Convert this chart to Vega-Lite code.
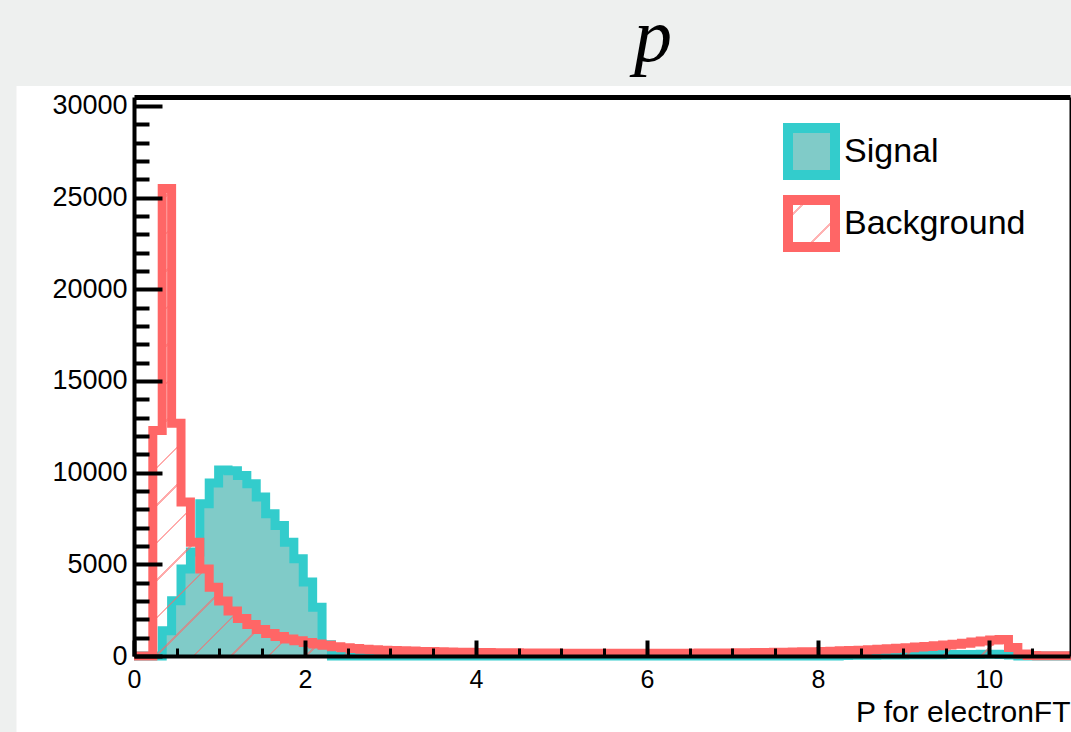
{
  "$schema": "https://vega.github.io/schema/vega-lite/v6.json",
  "width": 936,
  "height": 559,
  "autosize": {"type": "none"},
  "padding": {"left": 134, "top": 97, "right": 1, "bottom": 76},
  "background": "#eef0ef",
  "config": {
    "view": {"stroke": null},
    "axis": {
      "grid": false,
      "labelFont": "Liberation Sans",
      "titleFont": "Liberation Sans",
      "labelColor": "black",
      "titleColor": "black",
      "tickColor": "black",
      "domainColor": "black"
    }
  },
  "title": {
    "text": "p",
    "font": "Liberation Serif",
    "fontStyle": "italic",
    "fontWeight": "normal",
    "fontSize": 76,
    "color": "black",
    "anchor": "middle",
    "frame": "group",
    "dx": 51,
    "dy": 51,
    "offset": 0,
    "baseline": "alphabetic"
  },
  "data": {
    "values": [
      {"x": 0, "sig": 0, "bkg": 0},
      {"x": 0.11, "sig": 0, "bkg": 0},
      {"x": 0.22, "sig": 0, "bkg": 12300},
      {"x": 0.33, "sig": 1380, "bkg": 25500},
      {"x": 0.44, "sig": 3020, "bkg": 12700},
      {"x": 0.55, "sig": 4750, "bkg": 8400},
      {"x": 0.66, "sig": 5670, "bkg": 6210},
      {"x": 0.77, "sig": 8300, "bkg": 4750},
      {"x": 0.88, "sig": 9440, "bkg": 3750},
      {"x": 0.99, "sig": 10150, "bkg": 3000},
      {"x": 1.1, "sig": 10100, "bkg": 2450},
      {"x": 1.21, "sig": 9850, "bkg": 2050},
      {"x": 1.32, "sig": 9400, "bkg": 1720},
      {"x": 1.43, "sig": 8670, "bkg": 1450},
      {"x": 1.54, "sig": 7760, "bkg": 1230},
      {"x": 1.65, "sig": 7120, "bkg": 1060},
      {"x": 1.76, "sig": 6210, "bkg": 930},
      {"x": 1.87, "sig": 5300, "bkg": 830},
      {"x": 1.98, "sig": 4030, "bkg": 740},
      {"x": 2.09, "sig": 2660, "bkg": 660},
      {"x": 2.2, "sig": 620, "bkg": 580},
      {"x": 2.31, "sig": 0, "bkg": 510},
      {"x": 2.42, "sig": 0, "bkg": 450},
      {"x": 2.53, "sig": 0, "bkg": 410},
      {"x": 2.64, "sig": 0, "bkg": 375},
      {"x": 2.75, "sig": 0, "bkg": 345},
      {"x": 2.86, "sig": 0, "bkg": 320},
      {"x": 2.97, "sig": 0, "bkg": 300},
      {"x": 3.08, "sig": 0, "bkg": 282},
      {"x": 3.19, "sig": 0, "bkg": 266},
      {"x": 3.3, "sig": 0, "bkg": 252},
      {"x": 3.41, "sig": 0, "bkg": 240},
      {"x": 3.52, "sig": 0, "bkg": 229},
      {"x": 3.63, "sig": 0, "bkg": 219},
      {"x": 3.74, "sig": 0, "bkg": 210},
      {"x": 3.85, "sig": 0, "bkg": 202},
      {"x": 3.96, "sig": 0, "bkg": 195},
      {"x": 4.07, "sig": 0, "bkg": 189},
      {"x": 4.18, "sig": 0, "bkg": 183},
      {"x": 4.29, "sig": 0, "bkg": 178},
      {"x": 4.4, "sig": 0, "bkg": 173},
      {"x": 4.51, "sig": 0, "bkg": 169},
      {"x": 4.62, "sig": 0, "bkg": 165},
      {"x": 4.73, "sig": 0, "bkg": 162},
      {"x": 4.84, "sig": 0, "bkg": 159},
      {"x": 4.95, "sig": 0, "bkg": 156},
      {"x": 5.06, "sig": 0, "bkg": 154},
      {"x": 5.17, "sig": 0, "bkg": 152},
      {"x": 5.28, "sig": 0, "bkg": 150},
      {"x": 5.39, "sig": 0, "bkg": 149},
      {"x": 5.5, "sig": 0, "bkg": 148},
      {"x": 5.61, "sig": 0, "bkg": 147},
      {"x": 5.72, "sig": 0, "bkg": 147},
      {"x": 5.83, "sig": 0, "bkg": 147},
      {"x": 5.94, "sig": 0, "bkg": 148},
      {"x": 6.05, "sig": 0, "bkg": 149},
      {"x": 6.16, "sig": 0, "bkg": 150},
      {"x": 6.27, "sig": 0, "bkg": 152},
      {"x": 6.38, "sig": 0, "bkg": 154},
      {"x": 6.49, "sig": 0, "bkg": 156},
      {"x": 6.6, "sig": 0, "bkg": 159},
      {"x": 6.71, "sig": 0, "bkg": 162},
      {"x": 6.82, "sig": 0, "bkg": 166},
      {"x": 6.93, "sig": 0, "bkg": 170},
      {"x": 7.04, "sig": 0, "bkg": 175},
      {"x": 7.15, "sig": 0, "bkg": 180},
      {"x": 7.26, "sig": 0, "bkg": 186},
      {"x": 7.37, "sig": 0, "bkg": 193},
      {"x": 7.48, "sig": 0, "bkg": 200},
      {"x": 7.59, "sig": 0, "bkg": 208},
      {"x": 7.7, "sig": 0, "bkg": 217},
      {"x": 7.81, "sig": 0, "bkg": 227},
      {"x": 7.92, "sig": 0, "bkg": 238},
      {"x": 8.03, "sig": 0, "bkg": 250},
      {"x": 8.14, "sig": 0, "bkg": 265},
      {"x": 8.25, "sig": 30, "bkg": 282},
      {"x": 8.36, "sig": 35, "bkg": 300},
      {"x": 8.47, "sig": 40, "bkg": 320},
      {"x": 8.58, "sig": 45, "bkg": 342},
      {"x": 8.69, "sig": 50, "bkg": 366},
      {"x": 8.8, "sig": 55, "bkg": 392},
      {"x": 8.91, "sig": 60, "bkg": 420},
      {"x": 9.02, "sig": 65, "bkg": 452},
      {"x": 9.13, "sig": 70, "bkg": 486},
      {"x": 9.24, "sig": 70, "bkg": 522},
      {"x": 9.35, "sig": 75, "bkg": 560},
      {"x": 9.46, "sig": 80, "bkg": 600},
      {"x": 9.57, "sig": 80, "bkg": 645},
      {"x": 9.68, "sig": 85, "bkg": 700},
      {"x": 9.79, "sig": 85, "bkg": 760},
      {"x": 9.9, "sig": 90, "bkg": 820},
      {"x": 10.01, "sig": 90, "bkg": 870},
      {"x": 10.12, "sig": 80, "bkg": 900},
      {"x": 10.23, "sig": 60, "bkg": 470},
      {"x": 10.34, "sig": 0, "bkg": 110},
      {"x": 10.45, "sig": 0, "bkg": 30},
      {"x": 10.56, "sig": 0, "bkg": 20},
      {"x": 10.67, "sig": 0, "bkg": 15},
      {"x": 10.78, "sig": 0, "bkg": 10},
      {"x": 10.89, "sig": 0, "bkg": 10},
      {"x": 11, "sig": 0, "bkg": 10}
    ]
  },
  "resolve": {"axis": {"x": "independent", "y": "independent"}},
  "layer": [
    {
      "mark": {"type": "rect", "color": "white", "clip": false},
      "encoding": {
        "x": {"datum": -1.37, "type": "quantitative", "scale": {"domain": [0, 10.95], "nice": false, "zero": false},
          "axis": {"orient": "top", "zindex": 1, "domain": true, "domainWidth": 5, "ticks": false, "labels": false, "title": null}},
        "x2": {"datum": 11.2},
        "y": {"datum": -4500, "type": "quantitative", "scale": {"domain": [0, 30490], "nice": false},
          "axis": {"orient": "right", "zindex": 1, "domain": true, "domainWidth": 2, "ticks": false, "labels": false, "title": null}},
        "y2": {"datum": 31090}
      }
    },
    {
      "mark": {"type": "area", "interpolate": "step-after", "color": "#80cbc8"},
      "encoding": {
        "x": {"field": "x", "type": "quantitative", "scale": {"domain": [0, 10.95], "nice": false, "zero": false},
          "axis": {"orient": "bottom", "zindex": 1, "values": [0, 2, 4, 6, 8, 10], "ticks": false, "domain": true, "domainWidth": 4,
            "labelFontSize": 25, "labelPadding": 11, "labelFlush": false, "labelOverlap": false, "format": "d",
            "title": "P for electronFT", "titleFontSize": 30, "titleFontWeight": "normal", "titleAlign": "right",
            "titleAnchor": "end", "titleX": 936, "titleY": 65, "titleBaseline": "alphabetic"}},
        "y": {"field": "sig", "type": "quantitative", "scale": {"domain": [0, 30490], "nice": false},
          "axis": {"orient": "left", "zindex": 1, "values": [0, 5000, 10000, 15000, 20000, 25000, 30000], "ticks": false,
            "domain": true, "domainWidth": 4, "labelFontSize": 27, "labelPadding": 7, "labelFlush": false,
            "labelOverlap": false, "format": "d", "title": null}},
        "y2": {"datum": 0}
      }
    },
    {
      "mark": {"type": "line", "interpolate": "step-after", "strokeWidth": 9, "strokeJoin": "miter", "strokeCap": "butt"},
      "encoding": {
        "x": {"field": "x", "type": "quantitative", "scale": {"domain": [0, 10.95], "nice": false, "zero": false},
          "axis": {"orient": "bottom", "zindex": 1, "values": [0.5, 1, 1.5, 2.5, 3, 3.5, 4.5, 5, 5.5, 6.5, 7, 7.5, 8.5, 9, 9.5, 10.5],
            "labels": false, "domain": false, "tickSize": 8, "tickWidth": 3, "offset": -8, "title": null}},
        "y": {"field": "sig", "type": "quantitative", "scale": {"domain": [0, 30490], "nice": false},
          "axis": {"orient": "left", "zindex": 1, "values": [1000, 2000, 3000, 4000, 6000, 7000, 8000, 9000, 11000, 12000, 13000, 14000, 16000, 17000, 18000, 19000, 21000, 22000, 23000, 24000, 26000, 27000, 28000, 29000],
            "labels": false, "domain": false, "tickSize": 15, "tickWidth": 4, "offset": -15, "title": null}},
        "stroke": {"datum": "Signal", "type": "nominal",
          "scale": {"domain": ["Signal", "Background"], "range": ["#33cccc", "#ff6666"]},
          "legend": {
            "orient": "none", "legendX": 649, "legendY": 26, "title": null,
            "symbolType": "square", "symbolSize": 2209, "symbolStrokeWidth": 10, "symbolOpacity": 1,
            "labelFont": "Liberation Sans", "labelFontSize": 34, "labelColor": "black", "labelLimit": 400,
            "rowPadding": -17, "labelOffset": 4, "padding": 0,
            "encode": {
              "symbols": {
                "update": {
                  "strokeJoin": {"value": "miter"},
                  "fill": [
                    {"test": "datum.value === 'Signal'", "value": "#80cbc8"},
                    {"value": {"gradient": "linear", "x1": 0, "y1": 0, "x2": 1, "y2": 1, "stops": [
                      {"offset": 0, "color": "#ffffff"},
                      {"offset": 0.19, "color": "#ffffff"},
                      {"offset": 0.19, "color": "#ffb3b3"},
                      {"offset": 0.22, "color": "#ffb3b3"},
                      {"offset": 0.22, "color": "#ffffff"},
                      {"offset": 0.69, "color": "#ffffff"},
                      {"offset": 0.69, "color": "#ffb3b3"},
                      {"offset": 0.72, "color": "#ffb3b3"},
                      {"offset": 0.72, "color": "#ffffff"},
                      {"offset": 1, "color": "#ffffff"}
                    ]}}
                  ]
                }
              }
            }
          }
        }
      }
    },
    {
      "mark": {"type": "area", "interpolate": "step-after",
        "fill": {"gradient": "linear", "x1": 0, "y1": 0, "x2": 1.2005, "y2": 0.5968, "stops": [
          {"offset": 0.0004, "color": "rgba(255,102,102,0)"}, {"offset": 0.0004, "color": "rgba(255,102,102,0.55)"}, {"offset": 0.0022, "color": "rgba(255,102,102,0.55)"}, {"offset": 0.0022, "color": "rgba(255,102,102,0)"},
          {"offset": 0.0270, "color": "rgba(255,102,102,0)"}, {"offset": 0.0270, "color": "rgba(255,102,102,0.55)"}, {"offset": 0.0288, "color": "rgba(255,102,102,0.55)"}, {"offset": 0.0288, "color": "rgba(255,102,102,0)"},
          {"offset": 0.0537, "color": "rgba(255,102,102,0)"}, {"offset": 0.0537, "color": "rgba(255,102,102,0.55)"}, {"offset": 0.0555, "color": "rgba(255,102,102,0.55)"}, {"offset": 0.0555, "color": "rgba(255,102,102,0)"},
          {"offset": 0.0803, "color": "rgba(255,102,102,0)"}, {"offset": 0.0803, "color": "rgba(255,102,102,0.55)"}, {"offset": 0.0821, "color": "rgba(255,102,102,0.55)"}, {"offset": 0.0821, "color": "rgba(255,102,102,0)"},
          {"offset": 0.1070, "color": "rgba(255,102,102,0)"}, {"offset": 0.1070, "color": "rgba(255,102,102,0.55)"}, {"offset": 0.1088, "color": "rgba(255,102,102,0.55)"}, {"offset": 0.1088, "color": "rgba(255,102,102,0)"},
          {"offset": 0.1336, "color": "rgba(255,102,102,0)"}, {"offset": 0.1336, "color": "rgba(255,102,102,0.55)"}, {"offset": 0.1354, "color": "rgba(255,102,102,0.55)"}, {"offset": 0.1354, "color": "rgba(255,102,102,0)"},
          {"offset": 0.1602, "color": "rgba(255,102,102,0)"}, {"offset": 0.1602, "color": "rgba(255,102,102,0.55)"}, {"offset": 0.1620, "color": "rgba(255,102,102,0.55)"}, {"offset": 0.1620, "color": "rgba(255,102,102,0)"},
          {"offset": 0.1869, "color": "rgba(255,102,102,0)"}, {"offset": 0.1869, "color": "rgba(255,102,102,0.55)"}, {"offset": 0.1887, "color": "rgba(255,102,102,0.55)"}, {"offset": 0.1887, "color": "rgba(255,102,102,0)"},
          {"offset": 0.2135, "color": "rgba(255,102,102,0)"}, {"offset": 0.2135, "color": "rgba(255,102,102,0.55)"}, {"offset": 0.2153, "color": "rgba(255,102,102,0.55)"}, {"offset": 0.2153, "color": "rgba(255,102,102,0)"},
          {"offset": 0.2401, "color": "rgba(255,102,102,0)"}, {"offset": 0.2401, "color": "rgba(255,102,102,0.55)"}, {"offset": 0.2419, "color": "rgba(255,102,102,0.55)"}, {"offset": 0.2419, "color": "rgba(255,102,102,0)"},
          {"offset": 0.2668, "color": "rgba(255,102,102,0)"}, {"offset": 0.2668, "color": "rgba(255,102,102,0.55)"}, {"offset": 0.2686, "color": "rgba(255,102,102,0.55)"}, {"offset": 0.2686, "color": "rgba(255,102,102,0)"},
          {"offset": 0.2934, "color": "rgba(255,102,102,0)"}, {"offset": 0.2934, "color": "rgba(255,102,102,0.55)"}, {"offset": 0.2952, "color": "rgba(255,102,102,0.55)"}, {"offset": 0.2952, "color": "rgba(255,102,102,0)"},
          {"offset": 0.3200, "color": "rgba(255,102,102,0)"}, {"offset": 0.3200, "color": "rgba(255,102,102,0.55)"}, {"offset": 0.3218, "color": "rgba(255,102,102,0.55)"}, {"offset": 0.3218, "color": "rgba(255,102,102,0)"},
          {"offset": 0.3467, "color": "rgba(255,102,102,0)"}, {"offset": 0.3467, "color": "rgba(255,102,102,0.55)"}, {"offset": 0.3485, "color": "rgba(255,102,102,0.55)"}, {"offset": 0.3485, "color": "rgba(255,102,102,0)"},
          {"offset": 0.3733, "color": "rgba(255,102,102,0)"}, {"offset": 0.3733, "color": "rgba(255,102,102,0.55)"}, {"offset": 0.3751, "color": "rgba(255,102,102,0.55)"}, {"offset": 0.3751, "color": "rgba(255,102,102,0)"},
          {"offset": 0.3999, "color": "rgba(255,102,102,0)"}, {"offset": 0.3999, "color": "rgba(255,102,102,0.55)"}, {"offset": 0.4017, "color": "rgba(255,102,102,0.55)"}, {"offset": 0.4017, "color": "rgba(255,102,102,0)"},
          {"offset": 0.4266, "color": "rgba(255,102,102,0)"}, {"offset": 0.4266, "color": "rgba(255,102,102,0.55)"}, {"offset": 0.4284, "color": "rgba(255,102,102,0.55)"}, {"offset": 0.4284, "color": "rgba(255,102,102,0)"},
          {"offset": 0.4532, "color": "rgba(255,102,102,0)"}, {"offset": 0.4532, "color": "rgba(255,102,102,0.55)"}, {"offset": 0.4550, "color": "rgba(255,102,102,0.55)"}, {"offset": 0.4550, "color": "rgba(255,102,102,0)"},
          {"offset": 0.4799, "color": "rgba(255,102,102,0)"}, {"offset": 0.4799, "color": "rgba(255,102,102,0.55)"}, {"offset": 0.4817, "color": "rgba(255,102,102,0.55)"}, {"offset": 0.4817, "color": "rgba(255,102,102,0)"},
          {"offset": 0.5065, "color": "rgba(255,102,102,0)"}, {"offset": 0.5065, "color": "rgba(255,102,102,0.55)"}, {"offset": 0.5083, "color": "rgba(255,102,102,0.55)"}, {"offset": 0.5083, "color": "rgba(255,102,102,0)"},
          {"offset": 0.5331, "color": "rgba(255,102,102,0)"}, {"offset": 0.5331, "color": "rgba(255,102,102,0.55)"}, {"offset": 0.5349, "color": "rgba(255,102,102,0.55)"}, {"offset": 0.5349, "color": "rgba(255,102,102,0)"},
          {"offset": 0.5598, "color": "rgba(255,102,102,0)"}, {"offset": 0.5598, "color": "rgba(255,102,102,0.55)"}, {"offset": 0.5616, "color": "rgba(255,102,102,0.55)"}, {"offset": 0.5616, "color": "rgba(255,102,102,0)"},
          {"offset": 0.5864, "color": "rgba(255,102,102,0)"}, {"offset": 0.5864, "color": "rgba(255,102,102,0.55)"}, {"offset": 0.5882, "color": "rgba(255,102,102,0.55)"}, {"offset": 0.5882, "color": "rgba(255,102,102,0)"},
          {"offset": 0.6130, "color": "rgba(255,102,102,0)"}, {"offset": 0.6130, "color": "rgba(255,102,102,0.55)"}, {"offset": 0.6148, "color": "rgba(255,102,102,0.55)"}, {"offset": 0.6148, "color": "rgba(255,102,102,0)"},
          {"offset": 0.6397, "color": "rgba(255,102,102,0)"}, {"offset": 0.6397, "color": "rgba(255,102,102,0.55)"}, {"offset": 0.6415, "color": "rgba(255,102,102,0.55)"}, {"offset": 0.6415, "color": "rgba(255,102,102,0)"},
          {"offset": 0.6663, "color": "rgba(255,102,102,0)"}, {"offset": 0.6663, "color": "rgba(255,102,102,0.55)"}, {"offset": 0.6681, "color": "rgba(255,102,102,0.55)"}, {"offset": 0.6681, "color": "rgba(255,102,102,0)"},
          {"offset": 0.6930, "color": "rgba(255,102,102,0)"}, {"offset": 0.6930, "color": "rgba(255,102,102,0.55)"}, {"offset": 0.6948, "color": "rgba(255,102,102,0.55)"}, {"offset": 0.6948, "color": "rgba(255,102,102,0)"},
          {"offset": 0.7196, "color": "rgba(255,102,102,0)"}, {"offset": 0.7196, "color": "rgba(255,102,102,0.55)"}, {"offset": 0.7214, "color": "rgba(255,102,102,0.55)"}, {"offset": 0.7214, "color": "rgba(255,102,102,0)"},
          {"offset": 0.7462, "color": "rgba(255,102,102,0)"}, {"offset": 0.7462, "color": "rgba(255,102,102,0.55)"}, {"offset": 0.7480, "color": "rgba(255,102,102,0.55)"}, {"offset": 0.7480, "color": "rgba(255,102,102,0)"},
          {"offset": 0.7729, "color": "rgba(255,102,102,0)"}, {"offset": 0.7729, "color": "rgba(255,102,102,0.55)"}, {"offset": 0.7747, "color": "rgba(255,102,102,0.55)"}, {"offset": 0.7747, "color": "rgba(255,102,102,0)"},
          {"offset": 0.7995, "color": "rgba(255,102,102,0)"}, {"offset": 0.7995, "color": "rgba(255,102,102,0.55)"}, {"offset": 0.8013, "color": "rgba(255,102,102,0.55)"}, {"offset": 0.8013, "color": "rgba(255,102,102,0)"},
          {"offset": 0.8261, "color": "rgba(255,102,102,0)"}, {"offset": 0.8261, "color": "rgba(255,102,102,0.55)"}, {"offset": 0.8279, "color": "rgba(255,102,102,0.55)"}, {"offset": 0.8279, "color": "rgba(255,102,102,0)"},
          {"offset": 0.8528, "color": "rgba(255,102,102,0)"}, {"offset": 0.8528, "color": "rgba(255,102,102,0.55)"}, {"offset": 0.8546, "color": "rgba(255,102,102,0.55)"}, {"offset": 0.8546, "color": "rgba(255,102,102,0)"},
          {"offset": 0.8794, "color": "rgba(255,102,102,0)"}, {"offset": 0.8794, "color": "rgba(255,102,102,0.55)"}, {"offset": 0.8812, "color": "rgba(255,102,102,0.55)"}, {"offset": 0.8812, "color": "rgba(255,102,102,0)"},
          {"offset": 0.9060, "color": "rgba(255,102,102,0)"}, {"offset": 0.9060, "color": "rgba(255,102,102,0.55)"}, {"offset": 0.9078, "color": "rgba(255,102,102,0.55)"}, {"offset": 0.9078, "color": "rgba(255,102,102,0)"},
          {"offset": 0.9327, "color": "rgba(255,102,102,0)"}, {"offset": 0.9327, "color": "rgba(255,102,102,0.55)"}, {"offset": 0.9345, "color": "rgba(255,102,102,0.55)"}, {"offset": 0.9345, "color": "rgba(255,102,102,0)"},
          {"offset": 0.9593, "color": "rgba(255,102,102,0)"}, {"offset": 0.9593, "color": "rgba(255,102,102,0.55)"}, {"offset": 0.9611, "color": "rgba(255,102,102,0.55)"}, {"offset": 0.9611, "color": "rgba(255,102,102,0)"},
          {"offset": 0.9860, "color": "rgba(255,102,102,0)"}, {"offset": 0.9860, "color": "rgba(255,102,102,0.55)"}, {"offset": 0.9878, "color": "rgba(255,102,102,0.55)"}, {"offset": 0.9878, "color": "rgba(255,102,102,0)"}
        ]}},
      "encoding": {
        "x": {"field": "x", "type": "quantitative", "scale": {"domain": [0, 10.95], "nice": false, "zero": false},
          "axis": {"orient": "bottom", "zindex": 1, "values": [0, 2, 4, 6, 8, 10], "labels": false, "domain": false,
            "tickSize": 16, "tickWidth": 4, "offset": -16, "title": null}},
        "y": {"field": "bkg", "type": "quantitative", "scale": {"domain": [0, 30490], "nice": false},
          "axis": {"orient": "left", "zindex": 1, "values": [0, 5000, 10000, 15000, 20000, 25000, 30000], "labels": false,
            "domain": false, "tickSize": 28, "tickWidth": 4, "offset": -28, "title": null}},
        "y2": {"datum": 0}
      }
    },
    {
      "mark": {"type": "line", "interpolate": "step-after", "strokeWidth": 9, "strokeJoin": "miter", "strokeCap": "butt"},
      "encoding": {
        "x": {"field": "x", "type": "quantitative", "scale": {"domain": [0, 10.95], "nice": false, "zero": false}, "axis": null},
        "y": {"field": "bkg", "type": "quantitative", "scale": {"domain": [0, 30490], "nice": false}, "axis": null},
        "stroke": {"datum": "Background", "type": "nominal",
          "scale": {"domain": ["Signal", "Background"], "range": ["#33cccc", "#ff6666"]}}
      }
    }
  ]
}
